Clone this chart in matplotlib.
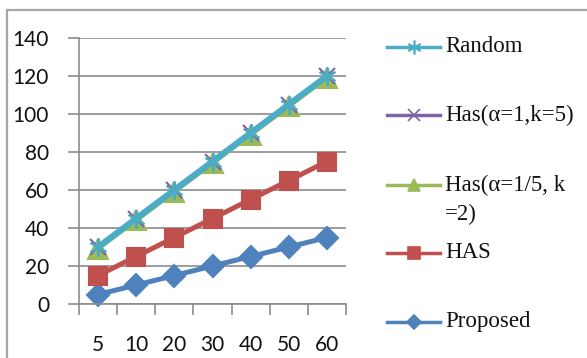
import matplotlib
matplotlib.use("Agg")
import matplotlib.pyplot as plt
from matplotlib.lines import Line2D
from matplotlib.patches import Rectangle

categories = ["5", "10", "20", "30", "40", "50", "60"]
random_vals = [30, 45, 60, 75, 90, 105, 120]
has_a1_k5 = [30, 45, 60, 75, 90, 105, 120]
has_a15_k2 = [29, 44, 59, 74, 89, 104, 119]
has_vals = [15, 25, 35, 45, 55, 65, 75]
proposed_vals = [5, 10, 15, 20, 25, 30, 35]
yticks = [0, 20, 40, 60, 80, 100, 120, 140]

W, H = 587, 358
fig = plt.figure(figsize=(W / 100, H / 100), dpi=100)
ax = fig.add_axes([79 / W, 1 - 304 / H, (346 - 79) / W, (304 - 38) / H])

x = list(range(len(categories)))
series = [
    ("Proposed", proposed_vals, "#4F81BD", "D", 11, 3.6, 2),
    ("HAS", has_vals, "#C0504D", "s", 13, 3.6, 3),
    ("Has(α=1/5, k\n=2)", has_a15_k2, "#9BBB59", "^", 14, 3.0, 4),
    ("Has(α=1,k=5)", has_a1_k5, "#8064A2", "x", 11, 3.0, 5),
    ("Random", random_vals, "#4BACC6", (6, 2, 0), 13, 4.4, 6),
]
for name, vals, col, mk, ms, lw, z in series:
    ax.plot(x, vals, color=col, marker=mk, markersize=ms, linewidth=lw,
            markeredgecolor=col, markeredgewidth=1.5, zorder=z, clip_on=False)

ax.set_xlim(-0.5, len(categories) - 0.5)
ax.set_ylim(0, 140)
ax.set_yticks(yticks)
ax.set_xticks(x)
ax.set_xticklabels(categories)
ax.set_xticks([i - 0.5 for i in range(len(categories) + 1)], minor=True)
ax.tick_params(axis="x", which="major", length=0, pad=22)
ax.tick_params(axis="x", which="minor", length=8, color="#8C8C8C", width=1.2, direction="out")
ax.tick_params(axis="y", length=8, color="#8C8C8C", width=1.2, pad=13.5)
for lab in ax.get_xticklabels() + ax.get_yticklabels():
    lab.set_fontfamily("Lato")
    lab.set_fontsize(15)
    lab.set_color("#111111")
ax.grid(axis="y", color="#8C8C8C", linewidth=1.2)
ax.set_axisbelow(True)
for s in ["top", "right"]:
    ax.spines[s].set_visible(False)
ax.spines["left"].set_color("#8C8C8C")
ax.spines["bottom"].set_color("#8C8C8C")
ax.spines["left"].set_linewidth(1.2)
ax.spines["bottom"].set_linewidth(1.2)

# outer chart border
fig.add_artist(Rectangle((7 / W, -0.05), 1.1, 1 - 10 / H + 0.05, transform=fig.transFigure,
                         fill=False, edgecolor="#A6A6A6", linewidth=1.6))

# legend (manual, Excel style)
leg = [
    ("Random", "#4BACC6", (6, 2, 0), 10, 47, ["Random"]),
    ("Has1", "#8064A2", "x", 8, 115, ["Has(α=1,k=5)"]),
    ("Has2", "#9BBB59", "^", 9, 185, ["Has(α=1/5, k", "=2)"]),
    ("HAS", "#C0504D", "s", 9, 253, ["HAS"]),
    ("Proposed", "#4F81BD", "D", 7, 322, ["Proposed"]),
]
for _, col, mk, ms, yp, lines in leg:
    yf = 1 - yp / H
    fig.add_artist(Line2D([387 / W, 440 / W], [yf, yf], transform=fig.transFigure,
                          color=col, linewidth=2.5, marker=None))
    fig.add_artist(Line2D([413.5 / W], [yf], transform=fig.transFigure,
                          color=col, marker=mk, markersize=ms, markeredgecolor=col,
                          markeredgewidth=1.2, linestyle="none"))
    for i, t in enumerate(lines):
        fig.text(445 / W, 1 - (yp + i * 29) / H, t, fontfamily="Liberation Serif",
                 fontsize=16.5, va="center", ha="left", color="#111111")

fig.savefig("out.png", dpi=100)
